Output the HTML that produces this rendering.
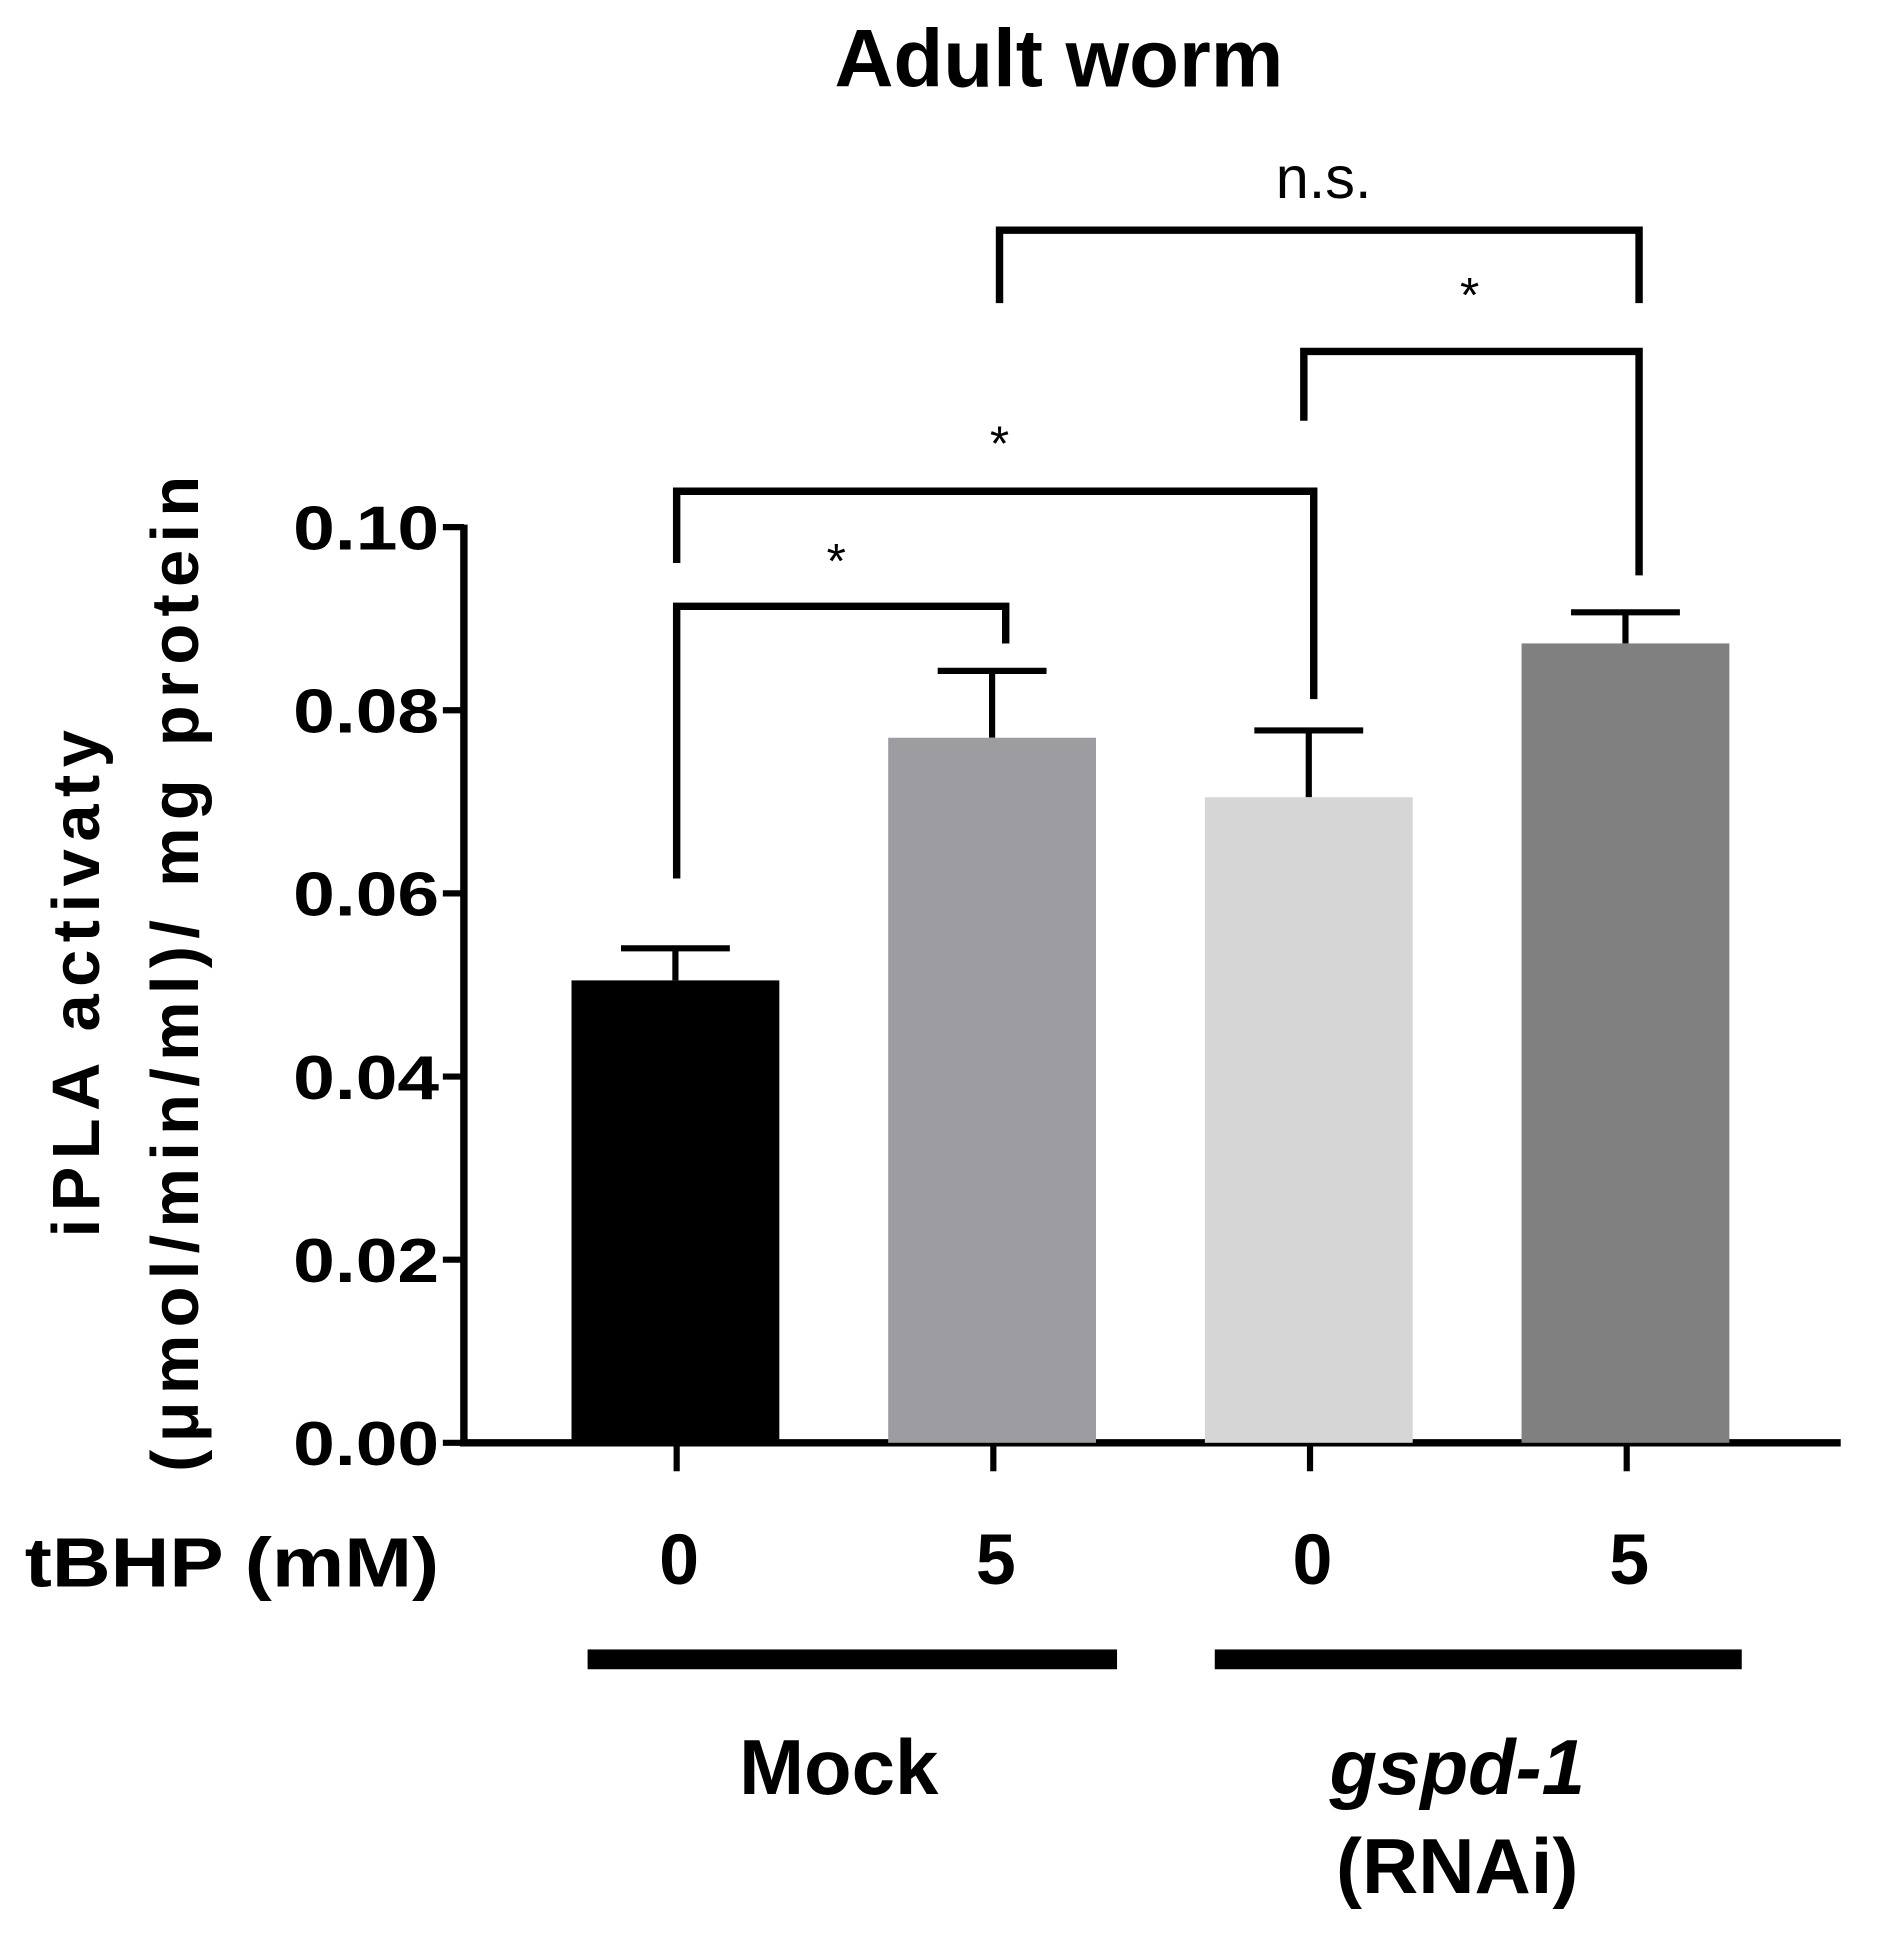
<!DOCTYPE html>
<html><head><meta charset="utf-8"><style>
html,body{margin:0;padding:0;background:#fff;}
svg{display:block;font-family:"Liberation Sans",Arial,sans-serif;}
</style></head><body>
<svg id="chart" width="1884" height="1939" viewBox="0 0 1523 1567" preserveAspectRatio="none" xmlns="http://www.w3.org/2000/svg">
<text x="856" y="70" text-anchor="middle" font-size="66" font-weight="bold">Adult worm</text>
<g id="ylabel" font-weight="bold" font-size="54" text-anchor="middle">
<text transform="translate(0,795) rotate(-90)" x="0" y="80" textLength="410" lengthAdjust="spacing">iPLA activaty</text>
<text transform="translate(0,787) rotate(-90)" x="0" y="160" textLength="805" lengthAdjust="spacing">(μmol/min/ml)/ mg protein</text>
</g>
<g id="axes"></g>
<g id="bars"></g>
<g id="brackets"></g>
<text x="20" y="1282" font-size="56" font-weight="bold" textLength="335" lengthAdjust="spacingAndGlyphs">tBHP (mM)</text>
<rect x="475" y="1333" width="428" height="16" fill="#000"/>
<rect x="982" y="1333" width="426" height="16" fill="#000"/>
<text x="678" y="1450" text-anchor="middle" font-size="63" font-weight="bold">Mock</text>
<text x="1178" y="1450" text-anchor="middle" font-size="63" font-weight="bold" font-style="italic">gspd-1</text>
<text x="1178" y="1530" text-anchor="middle" font-size="63" font-weight="bold">(RNAi)</text>
</svg>
<script>
const categories = ["0", "5", "0", "5"];
const values = [0.0505, 0.0770, 0.0705, 0.0873];
const errors = [0.0035, 0.0073, 0.0073, 0.0034];
const colors = ["#000000", "#9d9da1", "#d6d6d6", "#808080"];
const yTicks = [0, 0.02, 0.04, 0.06, 0.08, 0.10];
const yTickLabels = ["0.00", "0.02", "0.04", "0.06", "0.08", "0.10"];

const NS = "http://www.w3.org/2000/svg";
const X0 = 375, X1 = 1488, Y0 = 1166, YTOP = 426, YMAX = 0.1;
function yScale(v){ return Y0 - v / YMAX * (Y0 - YTOP); }
function xScale(i){ return 547 + i * 256; }
function mk(tag, attrs, parent){ const e = document.createElementNS(NS, tag); for (const k in attrs) e.setAttribute(k, attrs[k]); parent.appendChild(e); return e; }

const axes = document.getElementById("axes");
const yAxis = mk("line", {x1: X0, y1: YTOP - 2, x2: X0, y2: Y0 + 3, stroke: "#000", "stroke-width": 6}, axes);


const xAxis = mk("line", {x1: X0 - 3, y1: Y0, x2: X1, y2: Y0, stroke: "#000", "stroke-width": 6}, axes);


yTicks.forEach((t, i) => {
  const y = yScale(t);
  const tk = mk("line", {x1: X0 - 17, y1: y, x2: X0, y2: y, stroke: "#000", "stroke-width": 5}, axes);
  
  
  const lb = mk("text", {x: 355, y: y + 18, "text-anchor": "end", "font-size": 50, "font-weight": "bold", textLength: 118, lengthAdjust: "spacingAndGlyphs"}, axes);
  lb.textContent = yTickLabels[i];
  
  
});
categories.forEach((c, i) => {
  const x = xScale(i);
  const tk = mk("line", {x1: x, y1: Y0, x2: x, y2: Y0 + 23, stroke: "#000", "stroke-width": 5}, axes);
  
  
  const lb = mk("text", {x: x + 2, y: 1280, "text-anchor": "middle", "font-size": 58, "font-weight": "bold"}, axes);
  lb.textContent = c;
  
  
});

const bars = document.getElementById("bars");
values.forEach((v, i) => {
  const cx = xScale(i) - 1, w = 168;
  const top = yScale(v), et = yScale(v + errors[i]);
  const eb = mk("line", {x1: cx, y1: top, x2: cx, y2: et, stroke: "#000", "stroke-width": 5}, bars);
  
  
  const cap = mk("line", {x1: cx - 44, y1: et, x2: cx + 44, y2: et, stroke: "#000", "stroke-width": 5}, bars);
  
  
  const r = mk("rect", {x: cx - w / 2, y: top, width: w, height: Y0 - top, fill: colors[i]}, bars);
  
  
});

const brackets = document.getElementById("brackets");
const brk = [
  {a: 0, b: 1, la: 710, top: 490, lb: 520, label: "*", ly: 455, lx: 676},
  {a: 0, b: 2, la: 455, top: 397, lb: 565, label: "*", ly: 360, lx: 808},
  {a: 2, b: 3, la: 340, top: 284, lb: 465, label: "*", ly: 240, lx: 1188},
  {a: 1, b: 3, la: 245, top: 186, lb: 245, label: "n.s.", ly: 160, lx: 1070}
];
brk.forEach(d => {
  const xa = xScale(d.a) + (d.a === 2 && d.b === 3 ? -5 : (d.a === 1 ? 5 : 0)), xb = xScale(d.b) + (d.b === 2 ? 3 : 10);
  const p = mk("path", {d: `M${xa},${d.la} V${d.top} H${xb} V${d.lb}`, fill: "none", stroke: "#000", "stroke-width": 6}, brackets);
  
  
  const t = mk("text", {x: d.lx, y: d.label === "*" ? d.ly + 12 : d.ly, "text-anchor": "middle", "font-size": d.label === "*" ? 40 : 48}, brackets);
  t.textContent = d.label;
  
  
});
</script>
</body></html>
